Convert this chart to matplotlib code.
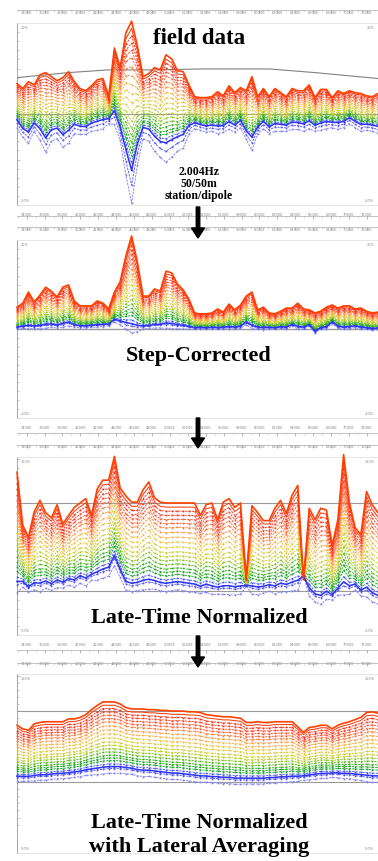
import numpy as np
import matplotlib
matplotlib.use('Agg')
import matplotlib.pyplot as plt
from matplotlib.patches import FancyArrow

W, H = 378, 861

# station positions (m) and ruler labels
easting = np.arange(64) * 64 + 3292
label_e = np.arange(3400, 7201, 200)
label_txt = ['%dE' % e for e in label_e]

# --- field data (top / bottom envelope, %) ---
field_top = [6.7, 5.6, 7.1, 6.4, 8.6, 9.1, 8.2, 7.3, 8.0, 9.3,
             7.1, 5.6, 5.1, 6.2, 7.5, 7.8, 3.8, 14.5, 10.2, 17.8,
             20.4, 15.0, 8.2, 8.9, 10.2, 9.7, 13.0, 12.1, 9.5, 9.3,
             6.4, 3.8, 3.6, 3.6, 3.8, 4.9, 4.0, 6.2, 4.7, 5.8,
             5.1, 8.2, 3.8, 5.6, 3.8, 5.6, 4.7, 3.8, 5.6, 5.1,
             5.1, 6.4, 3.6, 5.4, 5.4, 3.6, 5.1, 4.5, 5.1, 4.7,
             4.5, 4.0, 3.8, 4.5]
field_bot = [-3.0, -5.1, -6.4, -3.8, -5.8, -8.4, -6.0, -5.4, -7.3, -6.4,
             -4.3, -4.5, -4.5, -3.8, -3.6, -3.2, -2.1, -2.3, -5.8, -13.4,
             -19.6, -11.3, -5.4, -6.0, -8.2, -9.5, -10.6, -9.5, -8.2, -7.5,
             -4.5, -3.2, -3.6, -4.0, -3.8, -4.3, -4.0, -3.4, -4.0, -3.0,
             -5.6, -8.0, -4.3, -3.2, -4.3, -3.8, -3.8, -3.8, -3.4, -3.4,
             -3.8, -3.2, -3.8, -3.6, -3.2, -3.0, -3.4, -3.0, -2.1, -3.0,
             -3.8, -3.6, -3.8, -4.3]
topo_idx = [0, 9, 16, 25, 32, 44, 52, 63]
topo_val = [8.0, 9.1, 9.7, 9.7, 9.9, 9.9, 9.1, 7.8]

# --- step-corrected ---
step_top = [4.9, 5.8, 8.3, 6.1, 7.6, 9.4, 8.5, 7.2, 9.4, 9.9,
            6.3, 5.2, 5.2, 5.2, 6.3, 5.8, 4.5, 8.3, 10.6, 16.4,
            20.9, 15.1, 7.4, 7.4, 9.0, 8.5, 13.0, 12.6, 10.1, 8.8,
            6.7, 3.6, 3.4, 3.4, 3.6, 4.5, 3.8, 5.6, 4.3, 5.4,
            7.4, 8.3, 4.3, 4.9, 3.6, 3.4, 4.0, 4.7, 4.7, 5.8,
            4.5, 4.3, 3.6, 4.0, 4.9, 5.4, 4.7, 5.2, 5.2, 4.5,
            4.7, 4.0, 3.6, 3.8]
step_bot = [0.3, 0.5, 0.6, 0.5, 0.6, 0.8, 0.9, 0.7, 1.0, 1.3,
            0.8, 0.6, 0.6, 0.7, 0.8, 0.9, 1.0, 2.0, 1.6, 1.0,
            0.6, 0.4, 0.5, 0.6, 0.8, 0.8, 1.0, 0.9, 0.7, 0.6,
            0.4, 0.2, 0.3, 0.2, 0.3, 0.2, 0.3, 0.4, 0.3, 0.5,
            1.4, 0.6, 0.3, 0.2, 0.3, 0.2, 0.4, 0.3, 0.9, 0.4,
            0.3, 0.9, -0.6, 0.2, 0.4, 1.5, 0.5, 0.3, 0.4, 0.6,
            0.3, 0.2, 0.0, 0.1]

# --- late-time normalized ---
norm_top = [135, 75, 61, 90, 103, 89, 83, 98, 76, 86,
            95, 100, 105, 86, 116, 126, 126, 153, 117, 108,
            101, 101, 115, 124, 106, 101, 100, 100, 100, 100,
            100, 100, 86, 98, 100, 81, 101, 105, 95, 100,
            15, 97, 89, 80, 80, 94, 103, 88, 109, 120,
            13, 94, 81, 94, 92, 52, 81, 155, 101, 72,
            64, 113, 98, 89]
norm_bot = [7, 9, 3, 7, 6, 9, 6, 10, 8, 12,
            10, 15, 12, 17, 19, 22, 24, 37, 22, 8,
            6, 7, 9, 10, 9, 7, 6, 7, 8, 7,
            6, 5, 3, 5, 3, 2, 3, 3, 2, 3,
            6, 3, 2, 3, 5, 3, 6, 5, 7, 9,
            17, 1, -6, -8, -3, -6, 1, 6, 3, 6,
            -1, 1, -5, -8]

# --- late-time normalized, lateral averaging ---
avg_top = [80, 75, 73, 82, 84, 85, 85, 85, 85, 89,
           89, 91, 95, 102, 108, 113, 113, 113, 110, 105,
           103, 103, 103, 102, 102, 101, 101, 100, 100, 100,
           99, 99, 98, 95, 94, 93, 92, 92, 91, 90,
           84, 84, 85, 84, 84, 85, 85, 85, 85, 78,
           70, 77, 78, 80, 80, 75, 80, 83, 85, 88,
           91, 98, 99, 97]
avg_bot = [6, 6, 6, 7, 8, 8, 9, 10, 10, 11,
           12, 13, 15, 16, 17, 18, 19, 19, 19, 18,
           17, 15, 14, 14, 13, 12, 11, 10, 10, 9,
           8, 7, 6, 6, 5, 5, 4, 4, 3, 3,
           3, 3, 3, 3, 4, 4, 5, 5, 6, 6,
           7, 8, 9, 10, 10, 11, 11, 10, 10, 9,
           8, 7, 6, 6]

# decay channels: position between envelopes, and colours
frac_field = [1.0, 0.96, 0.92, 0.88, 0.84, 0.80, 0.75, 0.70, 0.65, 0.60, 0.55,
              0.50, 0.45, 0.41, 0.37, 0.33, 0.29, 0.26, 0.22, 0.18, 0.10, 0.0]
frac_proc = [1.0, 0.95, 0.90, 0.85, 0.80, 0.75, 0.70, 0.64, 0.58, 0.52, 0.46,
             0.40, 0.35, 0.30, 0.25, 0.20, 0.16, 0.12, 0.07, 0.03, 0.0, -0.07]
chan_colors = ['#ff4000', '#ff3000', '#ff2a10', '#ff3a20', '#ff4c28', '#ff6030',
               '#ff7838', '#ff9640', '#f6b040', '#e8c23c', '#dcca38', '#cccc30',
               '#bccc2a', '#8cc424', '#5cb820', '#34ac1c', '#1ea41c', '#18a030',
               '#4a5af0', '#2e34f0', '#5858f4', '#8080f4']

fig = plt.figure(figsize=(W / 100, H / 100), dpi=100)


def ruler(y):
    r = fig.add_axes([17 / W, 1 - y / H, 361 / W, 0.0001])
    r.set_xlim(easting[0], easting[-1])
    r.set_xticks(label_e)
    r.set_xticks(np.arange(3300, 7300, 100), minor=True)
    r.set_yticks([])
    for s in ['top', 'left', 'right']:
        r.spines[s].set_visible(False)
    r.spines['bottom'].set_linestyle((0, (1, 1)))
    r.spines['bottom'].set_color('#aaaaaa')
    r.spines['bottom'].set_linewidth(0.5)
    r.tick_params(which='major', length=2.5, width=0.5, color='#999999', labelbottom=False)
    r.tick_params(which='minor', length=1.2, width=0.4, color='#bbbbbb')
    r.patch.set_visible(False)


def panel(top_px, bot_px, ylim, top, bot, fracs, ystep, corner, bottom_labels=True):
    ax = fig.add_axes([17 / W, 1 - bot_px / H, 361 / W, (bot_px - top_px) / H])
    ax.set_xlim(easting[0], easting[-1])
    ax.set_ylim(*ylim)
    top = np.array(top, float)
    bot = np.array(bot, float)
    for k in reversed(range(len(fracs))):
        v = bot + (top - bot) * fracs[k]
        c = chan_colors[k]
        if k == 0:
            ax.plot(easting, v, color=c, lw=1.2, clip_on=False, zorder=5)
        elif k == 1:
            ax.plot(easting, v, color=c, lw=0.7, clip_on=False, zorder=4)
        elif k == 19:
            ax.plot(easting, v, color=c, lw=1.1, marker='s', ms=1.2, mew=0, clip_on=False, zorder=4)
        else:
            ax.plot(easting, v, color=c, lw=0.65, ls=(0, (2.5, 1.2)),
                    marker='s', ms=1.2, mew=0, clip_on=False, zorder=3)
    ax.set_xticks(label_e, label_txt)
    ax.tick_params(axis='x', top=False, bottom=False, labeltop=True, labelbottom=bottom_labels,
                   labelsize=2.6, labelcolor='#888888', pad=2)
    ax.set_yticks(np.arange(ylim[0] - ylim[0] % ystep, ylim[1], ystep))
    ax.set_yticks(np.arange(ylim[0] - ylim[0] % (ystep / 5), ylim[1], ystep / 5), minor=True)
    ax.tick_params(axis='y', which='both', direction='in', left=True, labelleft=False,
                   color='#999999', width=0.4)
    ax.tick_params(axis='y', which='major', length=2.5)
    ax.tick_params(axis='y', which='minor', length=1.2)
    ax.spines['left'].set_color('#999999')
    ax.spines['left'].set_linewidth(0.6)
    ax.spines['right'].set_visible(False)
    for s in ['top', 'bottom']:
        ax.spines[s].set_color('#dddddd')
        ax.spines[s].set_linewidth(0.5)
    kw = dict(transform=ax.transAxes, fontsize=2.5, color='#888888')
    ax.text(0.01, 0.985, corner[0], va='top', ha='left', **kw)
    ax.text(0.99, 0.985, corner[0], va='top', ha='right', **kw)
    ax.text(0.01, 0.012, corner[1], va='bottom', ha='left', **kw)
    ax.text(0.99, 0.012, corner[1], va='bottom', ha='right', **kw)
    return ax


gray = '#9a9a9a'

ax1 = panel(23, 205, (-20, 20), field_top, field_bot, frac_field, 10, ('20%', '-20%'))
ax1.axhline(0, color=gray, lw=0.8, zorder=2)
ax1.plot(easting[topo_idx], topo_val, color='#808080', lw=0.8, zorder=2)

ax2 = panel(240, 418, (-20, 20), step_top, step_bot, frac_proc, 10, ('20%', '-20%'))
ax2.axhline(0, color=gray, lw=1.0, zorder=2)

ax3 = panel(457, 635, (-50, 152.3), norm_top, norm_bot, frac_proc, 50, ('150%', '-50%'))
ax3.axhline(100, color=gray, lw=0.8, zorder=2)
ax3.axhline(0, color=gray, lw=0.8, zorder=2)

ax4 = panel(674, 853, (-51, 152.3), avg_top, avg_bot, frac_proc, 50, ('150%', '-50%'),
            bottom_labels=False)
ax4.axhline(100, color=gray, lw=0.8, zorder=2)
ax4.axhline(0, color=gray, lw=0.8, zorder=2)

for y in [10, 216, 227, 433, 445, 650, 663]:
    ruler(y)

# arrows between panels
for y0, y1 in [(207, 238), (418, 448), (636, 667)]:
    fig.add_artist(FancyArrow(1.98, (H - y0) / 100, 0, -(y1 - y0) / 100, width=0.035,
                              head_width=0.13, head_length=0.10, length_includes_head=True,
                              color='black', transform=fig.dpi_scale_trans, zorder=10))

tkw = dict(ha='center', va='baseline', fontweight='bold', family='Liberation Serif', zorder=10)
fig.text(199 / W, 1 - 43.5 / H, 'field data', fontsize=16.5, **tkw)
fig.text(199 / W, 1 - 361 / H, 'Step-Corrected', fontsize=16, **tkw)
fig.text(199 / W, 1 - 623 / H, 'Late-Time Normalized', fontsize=16, **tkw)
fig.text(199 / W, 1 - 828 / H, 'Late-Time Normalized', fontsize=16, **tkw)
fig.text(199 / W, 1 - 852 / H, 'with Lateral Averaging', fontsize=16, **tkw)
fig.text(199 / W, 1 - 175 / H, '2.004Hz', fontsize=8.5, **tkw)
fig.text(199 / W, 1 - 187 / H, '50/50m', fontsize=8.5, **tkw)
fig.text(199 / W, 1 - 199 / H, 'station/dipole', fontsize=8.5, **tkw)

fig.savefig('out.png', dpi=100)
